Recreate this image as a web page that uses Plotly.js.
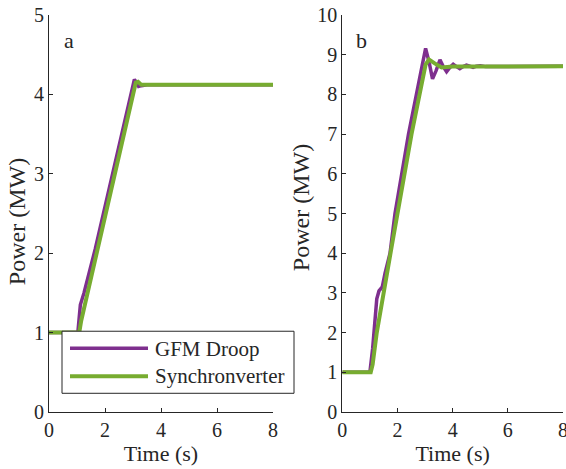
<!DOCTYPE html>
<html>
<head>
<meta charset="utf-8">
<script src="https://cdn.plot.ly/plotly-3.0.1.min.js"></script>
<style>
html,body{margin:0;padding:0;background:#fff}
#chart{width:566px;height:469px}
svg text{font-family:'Liberation Serif','Times New Roman',serif !important;}
</style>
</head>
<body>
<div id="chart"></div>
<script>
// Panel a
const timeA_droop = [0, 1.03, 1.12, 1.25, 1.65, 2.3, 2.9, 3.05, 3.12, 3.2, 3.3, 3.5, 8];
const powerA_droop = [1, 1, 1.35, 1.5, 2.05, 3.05, 3.97, 4.19, 4.15, 4.1, 4.11, 4.12, 4.12];
const timeA_sync = [0, 1.08, 1.15, 1.7, 2.4, 3.0, 3.1, 3.18, 3.3, 8];
const powerA_sync = [1, 1, 1.15, 2.0, 3.1, 4.02, 4.15, 4.16, 4.12, 4.12];
// Panel b
const timeB_droop = [0, 1.0, 1.1, 1.25, 1.33, 1.45, 1.55, 1.73, 1.91, 2.4, 2.8, 3.02, 3.15, 3.27, 3.4, 3.54, 3.66, 3.78, 3.9, 4.02, 4.14, 4.26, 4.38, 4.5, 4.62, 4.74, 4.86, 5.0, 5.2, 8];
const powerB_droop = [1, 1, 1.6, 2.85, 3.05, 3.15, 3.5, 4.0, 5.0, 7.0, 8.4, 9.16, 8.8, 8.39, 8.6, 8.87, 8.7, 8.57, 8.68, 8.76, 8.7, 8.65, 8.7, 8.74, 8.71, 8.68, 8.71, 8.72, 8.7, 8.71];
const timeB_sync = [0, 1.03, 1.1, 1.25, 1.83, 2.51, 3.02, 3.14, 3.35, 3.6, 4.0, 8];
const powerB_sync = [1, 1, 1.2, 2.0, 4.33, 7.0, 8.75, 8.88, 8.78, 8.68, 8.7, 8.71];
const xTicks = [0, 2, 4, 6, 8];
const yTicksA = [0, 1, 2, 3, 4, 5];
const yTicksB = [0, 1, 2, 3, 4, 5, 6, 7, 8, 9, 10];
const seriesNames = ["GFM Droop", "Synchronverter"];
const panelLabels = ["a", "b"];

const purple = "#7E2F8E", green = "#77AC30", ink = "#262626";
const FAM = "Liberation Serif";
const F = (size) => ({family: FAM, size: size || 20, color: ink});

const traces = [
  {x: timeA_droop, y: powerA_droop, xaxis: "x", yaxis: "y", mode: "lines", name: seriesNames[0], line: {color: purple, width: 3.5}, showlegend: false},
  {x: timeA_sync, y: powerA_sync, xaxis: "x", yaxis: "y", mode: "lines", name: seriesNames[1], line: {color: green, width: 4}, showlegend: false},
  {x: timeB_droop, y: powerB_droop, xaxis: "x2", yaxis: "y2", mode: "lines", name: seriesNames[0], line: {color: purple, width: 3.5}, showlegend: false},
  {x: timeB_sync, y: powerB_sync, xaxis: "x2", yaxis: "y2", mode: "lines", name: seriesNames[1], line: {color: green, width: 4}, showlegend: false}
];

function xax(domain, anchor) {
  return {domain: domain, anchor: anchor, range: [0, 8], tickvals: xTicks, ticks: "inside", ticklen: 4, tickcolor: ink,
    showline: true, linecolor: ink, linewidth: 1, showgrid: false, zeroline: false, tickfont: F(20),
    ticklabeloverflow: "allow",
    title: {text: "Time (s)", font: F(22), standoff: 2}};
}
function yax(domain, anchor, maxv, ticks) {
  return {domain: domain, anchor: anchor, range: [0, maxv], tickvals: ticks, ticks: "inside", ticklen: 4, tickcolor: ink,
    showline: true, linecolor: ink, linewidth: 1, showgrid: false, zeroline: false, tickfont: F(20)};
}

const L = 49, W = 514, T = 15, H = 396.7;
const px = v => (v - L) / W;
const py = v => 1 - (v - T) / H;

const layout = {
  width: 566, height: 469,
  margin: {l: 49, r: 3, t: 15, b: 57.3},
  paper_bgcolor: "#fff", plot_bgcolor: "rgba(0,0,0,0)",
  font: F(20),
  showlegend: false,
  xaxis: xax([0, px(273)], "y"),
  yaxis: yax([0, 1], "x", 5, yTicksA),
  xaxis2: xax([px(342.3), 1], "y2"),
  yaxis2: yax([0, 1], "x2", 10, yTicksB),
  shapes: [
    {type: "rect", xref: "paper", yref: "paper", x0: px(62), x1: px(294), y0: py(393), y1: py(331), line: {color: ink, width: 1}, fillcolor: "#fff", layer: "above"},
    {type: "line", xref: "paper", yref: "paper", x0: px(70), x1: px(148), y0: py(348), y1: py(348), line: {color: purple, width: 3.5}, layer: "above"},
    {type: "line", xref: "paper", yref: "paper", x0: px(70), x1: px(148), y0: py(376), y1: py(376), line: {color: green, width: 4}, layer: "above"}
  ],
  annotations: [
    {xref: "paper", yref: "paper", x: px(153), y: py(349), text: seriesNames[0], showarrow: false, xanchor: "left", yanchor: "middle", font: F(21)},
    {xref: "paper", yref: "paper", x: px(153), y: py(376), text: seriesNames[1], showarrow: false, xanchor: "left", yanchor: "middle", font: F(21)},
    {xref: "paper", yref: "paper", x: px(62), y: py(40), text: panelLabels[0], showarrow: false, xanchor: "left", yanchor: "middle", font: F(22)},
    {xref: "paper", yref: "paper", x: px(354), y: py(40), text: panelLabels[1], showarrow: false, xanchor: "left", yanchor: "middle", font: F(22)},
    {xref: "paper", yref: "paper", x: px(17), y: py(222), text: "Power (MW)", textangle: -90, showarrow: false, xanchor: "center", yanchor: "middle", font: F(24)},
    {xref: "paper", yref: "paper", x: px(301), y: py(208), text: "Power (MW)", textangle: -90, showarrow: false, xanchor: "center", yanchor: "middle", font: F(24)}
  ]
};

Plotly.newPlot("chart", traces, layout, {displayModeBar: false, staticPlot: true});
</script>
</body>
</html>
